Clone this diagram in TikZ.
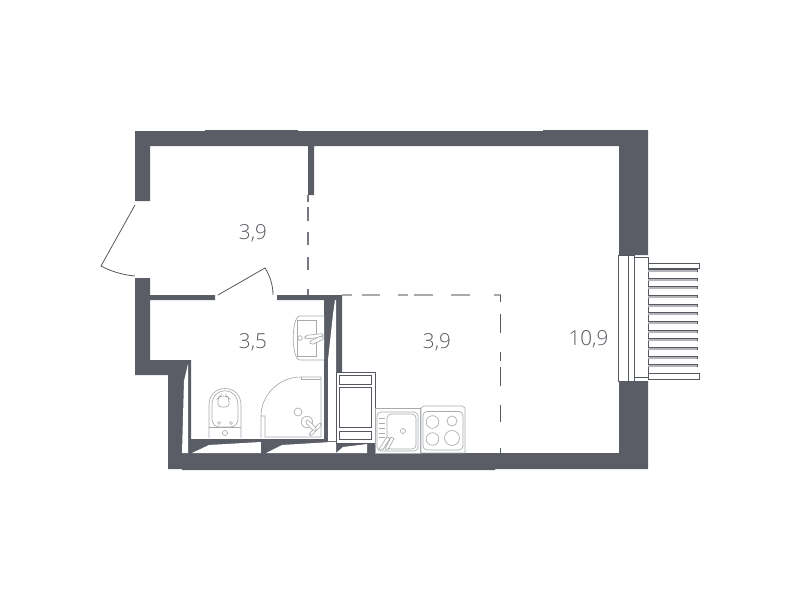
\documentclass[tikz,border=0pt]{standalone}
\usepackage{fontspec}
\setmainfont{Open Sans Light}
\definecolor{wall}{HTML}{5A5D66}
\definecolor{thin}{HTML}{55585F}
\definecolor{fix}{HTML}{A8AAAE}
\definecolor{slat}{HTML}{B4B5B8}
\tikzset{
  wallfill/.style={fill=wall,draw=none},
  cutout/.style={fill=white,draw=none},
  areatext/.style={text=thin,font=\fontsize{15.5}{15.5}\selectfont,inner sep=0pt},
  partline/.style={draw=thin,line width=0.7pt},
  partlight/.style={draw=fix,line width=1.2pt},
  doorline/.style={draw=thin,line width=0.6pt},
  fixline/.style={draw=fix,line width=0.5pt},
  darkline/.style={draw=thin,line width=0.75pt},
}
\begin{document}
\begin{tikzpicture}[x=0.75pt,y=-0.75pt]
\useasboundingbox (0,0) rectangle (800,600);
% outer walls
\fill[wallfill] (135,131) -- (205,131) -- (205,130) -- (298,130) -- (298,131) -- (543,131) -- (543,130) -- (648,130) -- (648,255) -- (619,255) -- (619,146) -- (314,146) -- (314,195) -- (308,195) -- (308,146) -- (150,146) -- (150,201) -- (135,201) -- cycle;
\fill[wallfill] (135,278) -- (150,278) -- (150,295) -- (215,295) -- (215,300) -- (150,300) -- (150,360) -- (191,360) -- (191,439) -- (324,439) -- (324,300) -- (277,300) -- (277,295) -- (342,295) -- (342,372) -- (336,372) -- (336,443) -- (375,443) -- (375,453) -- (495,453) -- (619,453) -- (619,381) -- (648,381) -- (648,469) -- (495,469) -- (495,470) -- (182,470) -- (182,469) -- (168,469) -- (168,375) -- (135,375) -- cycle;
% wall hollows
\fill[cutout] (335,302) -- (335,372) -- (328,372) -- (328,441) -- (336,441) -- (336,300) -- (335,300) -- cycle;
\fill[cutout] (328,372) -- (328,360) -- (333,314) -- (335,300) -- (335,372) -- cycle;
\fill[wall] (324,300) rectangle (328,441);
\fill[cutout] (188,364) -- (188,453) -- (182,453) -- (184,381) -- cycle;
\fill[cutout] (192,453) -- (209,445) -- (261,442) -- (261,453) -- cycle;
\fill[cutout] (266,453) -- (282,445) -- (331,442) -- (336,442) -- (336,453) -- cycle;
\fill[cutout] (336,453) -- (343,447) -- (367,444) -- (367,453) -- cycle;
\fill[wall] (261,440) rectangle (266,453);
% dashed partitions
\foreach \a/\b in {195/202,207/221,232/245,257/270,289/295}{\draw[partline,draw=fix!40!thin,line width=0.9pt] (308,\a) -- (308,\b);}
\foreach \a/\b in {342/352,362/380,398/408,414/433,451/470,494/501}{\draw[partlight] (\a,295) -- (\b,295);}
\foreach \a/\b in {295/302,314/333,352/361,367/386,405/422,448/453}{\draw[partline] (500.5,\a) -- (500.5,\b);}
% doors
\coordinate (da) at (135,205); \coordinate (db) at (101,266); \coordinate (dc) at (135,276);
\draw[doorline] (da) -- (db) .. controls (112,272) and (124,275) .. (dc);
\coordinate (ea) at (218,295); \coordinate (eb) at (265,268); \coordinate (ec) at (273,295);
\draw[doorline] (ea) -- (eb) .. controls (270,276) and (273,285) .. (ec);
% window
\draw[darkline] (618,255) rectangle (634,381);
\draw[darkline] (628,255) -- (628,381);
\draw[darkline,fill=white] (634,257) rectangle (648,377);
% balcony
\foreach \y in {269,278,286,295,304,312,321,330,338,347,356,364}{
  \fill[slat] (648,\y) rectangle (697,\y+3);
  \draw[darkline] (648,\y) -- (697,\y) -- (697,\y+3);
}
\draw[darkline,fill=white] (648,263) rectangle (699,268);
\draw[darkline,fill=white] (648,373) rectangle (699,379);
% fridge
\draw[draw=thin,line width=0.75pt,fill=white] (336,372) rectangle (375,443);
\draw[darkline] (339.5,375) rectangle (371,384);
\draw[darkline] (339.5,387) rectangle (371,427);
\draw[darkline] (339.5,431) rectangle (371,439);
% basin
\draw[fixline,fill=white] (324,316) -- (300,316) .. controls (291,316) and (291,360) .. (300,360) -- (324,360);
\draw[fixline] (297,320) rectangle (316,356);
\draw[fixline] (300,338) circle (2.3);
\draw[fixline,fill=white,rounded corners=1.5pt] (305,335.5) -- (323,333.5) -- (323,337) -- (305,339) -- cycle;
\draw[fixline,fill=white,rounded corners=1.5pt] (309,341.5) -- (322,335.5) -- (324,339) -- (311,345) -- cycle;
% toilet
\draw[fixline] (209,438) -- (209,405) .. controls (209,383) and (241,383) .. (241,405) -- (241,438);
\draw[fixline] (212,405) .. controls (212,386) and (238,386) .. (238,405) -- (238,418) .. controls (238,425) and (234,427) .. (230,427) -- (220,427) .. controls (216,427) and (212,425) .. (212,418) -- cycle;
\draw[fixline] (209,427) -- (241,427);
\draw[fixline,rounded corners=2.5pt] (218,407) -- (218,398) -- (220,396) -- (227,396) -- (229,398) -- (229,407) -- cycle;
\draw[fixline] (225,433) circle (2.5);
\draw[fixline] (219,423) circle (1.5);
\draw[fixline] (231,423) circle (1.5);
% shower
\draw[fixline] (261,438) -- (261,416) .. controls (261,395) and (279,377) .. (301,377) -- (321,377) -- (321,437) -- (265,437) -- (265,416) -- (261,416);
\draw[fixline] (301,377) -- (301,379) -- (321,379);
\draw[fixline] (298,412) circle (4);
\draw[fixline] (307,422) circle (5.7);
\draw[fixline,fill=white,rounded corners=1.5pt] (309,434) -- (320,422.5) -- (322,425) -- (311,436) -- cycle;
\draw[fixline,fill=white,rounded corners=1.5pt] (305,422) -- (308,419.5) -- (317,429) -- (314,431.5) -- cycle;
% sink
\draw[fixline] (375,408) rectangle (420,453);
\draw[fixline,rounded corners=3pt] (377,412) rectangle (418,451);
\draw[fixline,rounded corners=3pt] (387,414) rectangle (416,449);
\draw[fixline] (403,431) circle (2.5);
\foreach \y in {418,423,428,433,437}{\draw[fixline] (379,\y) -- (385,\y);}
\draw[fixline,fill=white] (379,449) -- (387,437) -- (390,438.5) -- (383,449.5) -- cycle;
\draw[fixline,fill=white] (385,449) -- (391,437) -- (394,438.5) -- (388,449.5) -- cycle;
% stove
\draw[fixline] (421,408) -- (424,406) -- (462,406) -- (465,408) -- (465,453) -- (421,453) -- cycle;
\draw[fixline,rounded corners=3pt] (423,411.5) rectangle (463,450);
\draw[fixline] (432.5,422) circle (6.3);
\draw[fixline] (452,421) circle (5);
\draw[fixline] (432.5,439) circle (6.3);
\draw[fixline] (452,438) circle (7.5);
% labels
\node[areatext] (r1) at (253,233.5) {3,9};
\node[areatext] (r2) at (253,342.5) {3,5};
\node[areatext] (r3) at (437,342.5) {3,9};
\node[areatext] (r4) at (588.5,339.5) {10,9};
\end{tikzpicture}
\end{document}
